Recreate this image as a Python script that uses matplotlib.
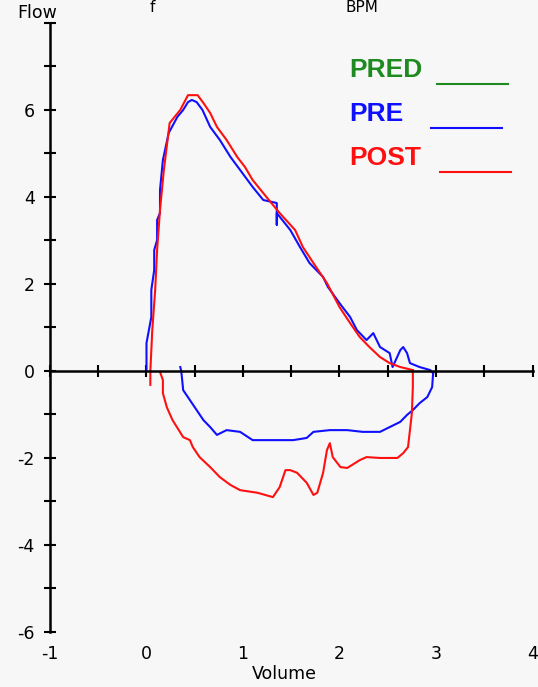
import numpy as np
import matplotlib
matplotlib.use("Agg")
import matplotlib.pyplot as plt
from matplotlib.lines import Line2D
from matplotlib.ticker import MultipleLocator

# ── Flow-volume loop, values (Volume L, Flow L/s) ──
pre_exp_vol = [0.00, 0.00, 0.05, 0.05, 0.08, 0.08, 0.11, 0.11, 0.14, 0.14,
               0.17, 0.23, 0.32, 0.38, 0.43, 0.47, 0.52, 0.58, 0.66, 0.76,
               0.87, 0.97, 1.10, 1.21, 1.35, 1.35, 1.35, 1.49, 1.59, 1.69,
               1.83, 1.88, 2.00, 2.11, 2.18, 2.28, 2.35, 2.42, 2.52, 2.55,
               2.63, 2.66, 2.70, 2.73, 2.83, 2.94, 2.97]
pre_exp_flow = [0.00, 0.64, 1.24, 1.86, 2.32, 2.78, 3.01, 3.47, 3.63, 4.16,
                4.85, 5.47, 5.84, 6.00, 6.18, 6.23, 6.18, 6.00, 5.61, 5.31,
                4.92, 4.62, 4.23, 3.93, 3.86, 3.36, 3.63, 3.24, 2.85, 2.48,
                2.16, 1.93, 1.56, 1.24, 0.94, 0.71, 0.87, 0.55, 0.41, 0.09,
                0.48, 0.55, 0.41, 0.18, 0.09, 0.02, -0.05]

pre_insp_vol = [0.35, 0.36, 0.37, 0.38, 0.45, 0.52, 0.59, 0.66, 0.73, 0.83,
                0.97, 1.10, 1.28, 1.38, 1.52, 1.66, 1.73, 1.90, 2.08, 2.24,
                2.42, 2.52, 2.63, 2.70, 2.76, 2.83, 2.91, 2.96, 2.97]
pre_insp_flow = [0.09, 0.00, -0.21, -0.44, -0.67, -0.90, -1.13, -1.29, -1.47,
                 -1.36, -1.40, -1.59, -1.59, -1.59, -1.59, -1.54, -1.40, -1.36,
                 -1.36, -1.40, -1.40, -1.29, -1.17, -1.01, -0.90, -0.74, -0.60,
                 -0.37, -0.05]

post_exp_vol = [0.04, 0.04, 0.06, 0.09, 0.11, 0.14, 0.18, 0.24, 0.35, 0.43,
                0.53, 0.59, 0.66, 0.73, 0.83, 0.94, 1.02, 1.10, 1.25, 1.38,
                1.54, 1.62, 1.73, 1.87, 2.00, 2.11, 2.21, 2.31, 2.42, 2.52,
                2.63, 2.76]
post_exp_flow = [-0.32, 0.00, 0.94, 1.86, 2.78, 3.70, 4.62, 5.70, 6.00, 6.34,
                 6.34, 6.16, 5.93, 5.61, 5.31, 4.92, 4.69, 4.39, 3.98, 3.63,
                 3.24, 2.85, 2.48, 2.02, 1.47, 1.10, 0.78, 0.55, 0.32, 0.18,
                 0.09, 0.02]

post_insp_vol = [2.76, 2.76, 2.75, 2.71, 2.66, 2.60, 2.42, 2.28, 2.21, 2.08,
                 2.01, 1.93, 1.90, 1.87, 1.83, 1.77, 1.73, 1.66, 1.56, 1.49,
                 1.44, 1.38, 1.31, 1.15, 0.97, 0.87, 0.76, 0.66, 0.55, 0.48,
                 0.45, 0.38, 0.27, 0.21, 0.17, 0.17, 0.14]
post_insp_flow = [0.02, -0.37, -0.97, -1.75, -1.89, -2.00, -2.00, -1.98, -2.05,
                  -2.23, -2.21, -1.98, -1.66, -1.82, -2.34, -2.80, -2.85, -2.57,
                  -2.34, -2.28, -2.28, -2.67, -2.90, -2.80, -2.74, -2.62, -2.44,
                  -2.21, -1.98, -1.75, -1.59, -1.52, -1.13, -0.83, -0.51, -0.21,
                  -0.02]

x_ticks = [-1, 0, 1, 2, 3, 4]
y_labels = [-6, -4, -2, 0, 2, 4, 6]      # the 8 slot is taken by "Flow"
legend_names = ["PRED", "PRE", "POST"]
legend_colors = ["#1f8a1f", "#1010ff", "#ff1010"]

BG = "#f7f7f7"
BLUE, RED = "#1010ff", "#ff1010"

fig = plt.figure(figsize=(5.38, 6.87), dpi=100, facecolor=BG)
ax = fig.add_axes([0.0929, 0.0801, 0.8969, 0.8865], facecolor=BG)

ax.plot(pre_exp_vol, pre_exp_flow, color=BLUE, lw=1.5)
ax.plot(pre_insp_vol, pre_insp_flow, color=BLUE, lw=1.5)
ax.plot(post_exp_vol, post_exp_flow, color=RED, lw=1.5)
ax.plot(post_insp_vol, post_insp_flow, color=RED, lw=1.5)

ax.set_xlim(-1, 4)
ax.set_ylim(-6, 8)
for side in ("top", "right"):
    ax.spines[side].set_visible(False)
ax.spines["bottom"].set_position(("data", 0))
ax.spines["left"].set_linewidth(1.8)
ax.spines["bottom"].set_linewidth(1.8)

ax.xaxis.set_major_locator(MultipleLocator(1))
ax.xaxis.set_minor_locator(MultipleLocator(0.5))
ax.yaxis.set_minor_locator(MultipleLocator(1))
ax.set_yticks(y_labels + [8])
ax.set_yticklabels([str(v) for v in y_labels] + [""])
ax.tick_params(axis="both", which="both", direction="inout", length=8,
               width=1.5, color="black")
ax.tick_params(axis="x", labelbottom=False)
ax.tick_params(axis="y", labelsize=12.5, pad=7)

# x tick labels sit at the bottom of the frame, not on the zero line
for v in x_ticks:
    ax.text(v, -6.5, str(v), ha="center", va="center", fontsize=12.5)

fig.text(284 / 538, 1 - 674 / 687, "Volume", ha="center", va="center",
         fontsize=12.5)
fig.text(17 / 538, 1 - 13 / 687, "Flow", ha="left", va="center",
         fontsize=12.5)
fig.text(152 / 538, 1 - 8 / 687, "f", ha="center", va="center", fontsize=11)
fig.text(362 / 538, 1 - 8 / 687, "BPM", ha="center", va="center",
         fontsize=11)

# legend: coloured name followed by a short line
for i, (name, col) in enumerate(zip(legend_names, legend_colors)):
    ytxt = 1 - (70 + 44 * i) / 687
    fig.text(349 / 538, ytxt, name, color=col, fontsize=19,
             fontweight="bold", family="Liberation Sans", va="center")
    yl = 1 - (84 + 44 * i) / 687
    x0 = [437, 431, 440][i]
    fig.add_artist(Line2D([x0 / 538, (x0 + 71) / 538], [yl, yl], color=col,
                          lw=1.5, transform=fig.transFigure))

fig.savefig("out.png", dpi=100, facecolor=BG)
